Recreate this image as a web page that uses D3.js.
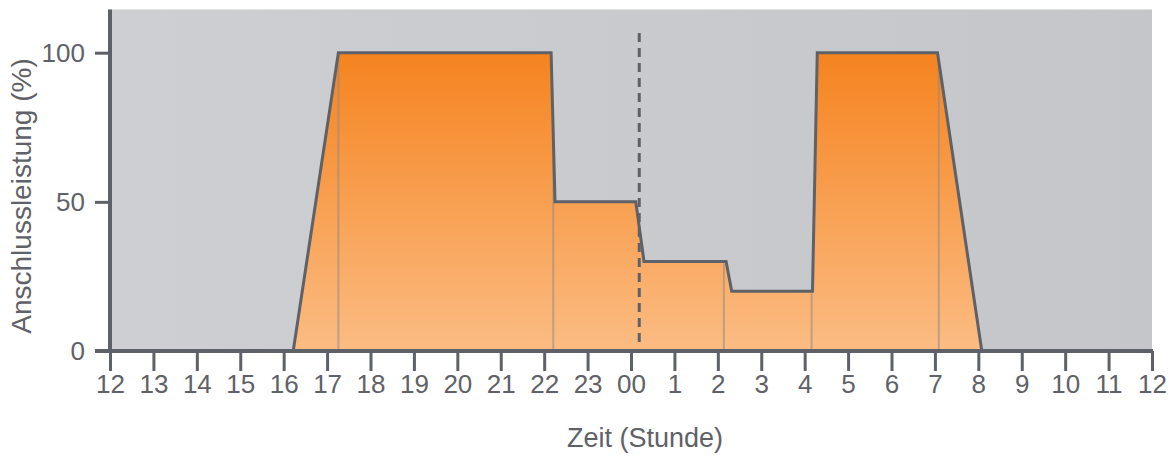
<!DOCTYPE html>
<html>
<head>
<meta charset="utf-8">
<script src="https://cdn.jsdelivr.net/npm/d3@7"></script>
<style>
  body { margin: 0; background: #fff; }
  text { font-family: "Liberation Sans", Arial, sans-serif; fill: #5f6168; }
</style>
</head>
<body>
<div id="chart"></div>
<script>
// data: hours counted from noon (12 .. 36), load in percent
var hours = [16.22, 17.26, 22.16, 22.25, 24.11, 24.30, 26.19, 26.32, 28.18, 28.29, 31.06, 32.08];
var load = [0, 100, 100, 50, 50, 30, 30, 20, 20, 100, 100, 0];
var dividerHours = [17.26, 22.21, 26.14, 28.16, 31.09];
var midnightHour = 24.19;
var tickHours = d3.range(12, 37);
var tickLabels = ["12", "13", "14", "15", "16", "17", "18", "19", "20", "21", "22", "23",
  "00", "1", "2", "3", "4", "5", "6", "7", "8", "9", "10", "11", "12"];
var yTicks = [0, 50, 100];

var svgWidth = 1169;
var svgHeight = 457;
var ink = "#5f6168";

var points = hours.map(function(h, i) { return { h: h, v: load[i] }; });

var x = d3.scaleLinear().domain([12, 36]).range([110, 1152]);
var y = d3.scaleLinear().domain([0, 100]).range([351, 52.7]);
var yTop = 114.5;

var svg = d3.select("#chart")
  .append("svg")
  .attr("width", svgWidth)
  .attr("height", svgHeight);

var defs = svg.append("defs");

var bg = defs.append("linearGradient").attr("id", "bgGrad")
  .attr("x1", "0").attr("x2", "1").attr("y1", "0").attr("y2", "0");
bg.append("stop").attr("offset", "0").attr("stop-color", "#cecfd2");
bg.append("stop").attr("offset", "1").attr("stop-color", "#c5c6ca");

var fillGrad = defs.append("linearGradient").attr("id", "fillGrad")
  .attr("gradientUnits", "userSpaceOnUse")
  .attr("x1", 0).attr("x2", 0).attr("y1", y(100)).attr("y2", y(0));
fillGrad.append("stop").attr("offset", "0").attr("stop-color", "#f5831f");
fillGrad.append("stop").attr("offset", "1").attr("stop-color", "#fbbc83");

// plot background
svg.append("rect")
  .attr("x", x(12))
  .attr("y", y(yTop))
  .attr("width", x(36) - x(12))
  .attr("height", y(0) - y(yTop))
  .attr("fill", "url(#bgGrad)");

// area
var area = d3.area()
  .x(d => x(d.h))
  .y0(y(0))
  .y1(d => y(d.v));

svg.append("path")
  .datum(points)
  .attr("d", area)
  .attr("fill", "url(#fillGrad)");

// thin dividers inside the area
svg.selectAll(".divider")
  .data(dividerHours)
  .enter()
  .append("line")
  .attr("class", "divider")
  .attr("x1", d => x(d))
  .attr("x2", d => x(d))
  .attr("y1", function(d) {
    // height of the area at that hour
    var i = d3.bisector(p => p.h).right(points, d);
    var a = points[i - 1], b = points[i];
    var v = a.v + (b.v - a.v) * (d - a.h) / (b.h - a.h);
    return y(v) + 2;
  })
  .attr("y2", y(0))
  .attr("stroke", "#8e8a86")
  .attr("stroke-opacity", 0.55)
  .attr("stroke-width", 2);

// midnight dashed line
svg.append("line")
  .attr("x1", x(midnightHour))
  .attr("x2", x(midnightHour))
  .attr("y1", 33)
  .attr("y2", y(0) - 4)
  .attr("stroke", ink)
  .attr("stroke-width", 3)
  .attr("stroke-dasharray", "9,6");

// outline
var line = d3.line()
  .x(d => x(d.h))
  .y(d => y(d.v));

svg.append("path")
  .datum(points)
  .attr("d", line)
  .attr("fill", "none")
  .attr("stroke", ink)
  .attr("stroke-width", 3)
  .attr("stroke-linejoin", "miter");

// axes
var bottomAxis = d3.axisBottom(x)
  .tickValues(tickHours)
  .tickFormat((d, i) => tickLabels[i])
  .tickSize(20)
  .tickSizeOuter(0)
  .tickPadding(4);

var xAxisG = svg.append("g")
  .attr("transform", `translate(0, ${y(0)})`)
  .call(bottomAxis);

xAxisG.select(".domain").remove();
xAxisG.selectAll(".tick line").attr("stroke", ink).attr("stroke-width", 3);
xAxisG.selectAll(".tick text").attr("font-size", "26px").attr("fill", ink)
  .attr("font-family", "Liberation Sans, Arial, sans-serif");

var leftAxis = d3.axisLeft(y)
  .tickValues(yTicks)
  .tickSize(15)
  .tickSizeOuter(0)
  .tickPadding(10);

var yAxisG = svg.append("g")
  .attr("transform", `translate(${x(12)}, 0)`)
  .call(leftAxis);

yAxisG.select(".domain").remove();
yAxisG.selectAll(".tick line").attr("stroke", ink).attr("stroke-width", 3);
yAxisG.selectAll(".tick text").attr("font-size", "26px").attr("fill", ink)
  .attr("font-family", "Liberation Sans, Arial, sans-serif");

// axis lines
svg.append("line")
  .attr("x1", x(12)).attr("x2", x(12))
  .attr("y1", y(yTop)).attr("y2", y(0))
  .attr("stroke", ink).attr("stroke-width", 4);

svg.append("line")
  .attr("x1", x(12) - 15).attr("x2", x(36) + 1)
  .attr("y1", y(0)).attr("y2", y(0))
  .attr("stroke", ink).attr("stroke-width", 4);

// axis titles
svg.append("text")
  .attr("transform", "translate(31, 196) rotate(-90)")
  .attr("text-anchor", "middle")
  .attr("font-size", "28px")
  .text("Anschlussleistung (%)");

svg.append("text")
  .attr("x", 645)
  .attr("y", 447)
  .attr("text-anchor", "middle")
  .attr("font-size", "27px")
  .text("Zeit (Stunde)");
</script>
</body>
</html>
